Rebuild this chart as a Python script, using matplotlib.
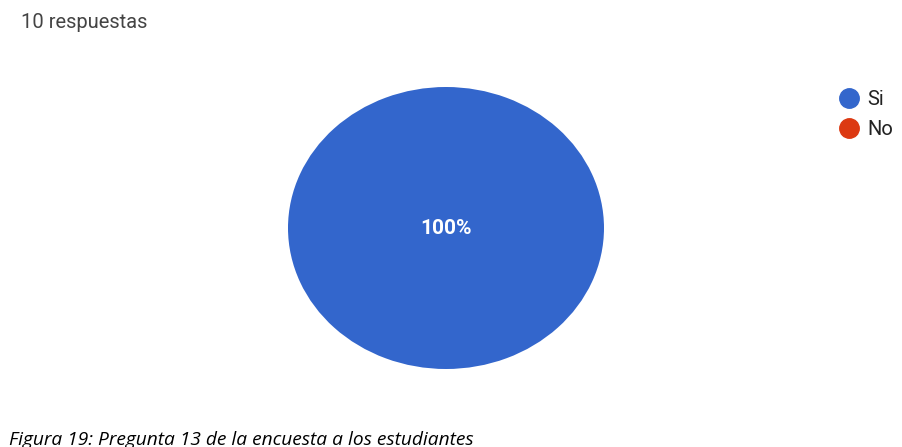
import matplotlib
matplotlib.use("Agg")
import matplotlib.pyplot as plt
from matplotlib.lines import Line2D

# Data
categories = ['Si', 'No']
values = [10, 0]
colors = ['#3366CC', '#DC3912']
subtitle = '10 respuestas'
caption = 'Figura 19: Pregunta 13 de la encuesta a los estudiantes'

W, H = 902, 447
fig = plt.figure(figsize=(W / 100, H / 100), dpi=100)
fig.patch.set_facecolor('white')

# Pie axes placed by pixel box (stretched ellipse like the reference)
ax = fig.add_axes([288 / W, (H - 369) / H, 316 / W, 282 / H])


def pct(p):
    return f'{p:.0f}%' if p > 0 else ''


wedges, texts, autotexts = ax.pie(values, colors=colors, startangle=90,
                                  counterclock=False, autopct=pct,
                                  pctdistance=0.0,
                                  wedgeprops=dict(linewidth=0),
                                  textprops=dict(color='white', fontsize=15,
                                                 fontweight='bold',
                                                 family='Roboto'))
ax.set_aspect('auto')
ax.set_xlim(-1, 1)
ax.set_ylim(-1, 1)
ax.axis('off')

fig.text(21 / W, 1 - 22 / H, subtitle, fontsize=14.5, color='#444444',
         family='Roboto', va='center', ha='left')

# Legend
handles = [Line2D([], [], marker='o', linestyle='', markersize=14,
                  markerfacecolor=c, markeredgecolor=c) for c in colors]
fig.legend(handles, categories, loc='upper left',
           bbox_to_anchor=(816 / W, 1 - 72 / H), frameon=False,
           handletextpad=0.15, labelspacing=0.55, handlelength=1.5,
           prop=dict(family='Roboto', size=14.5), labelcolor='#222222')

# Caption (cut at the bottom edge like the reference)
fig.text(9 / W, 2 / H, caption, fontsize=13.8, style='italic',
         family='Open Sans', color='black', va='baseline', ha='left')

fig.savefig('out.png', dpi=100, facecolor='white')
